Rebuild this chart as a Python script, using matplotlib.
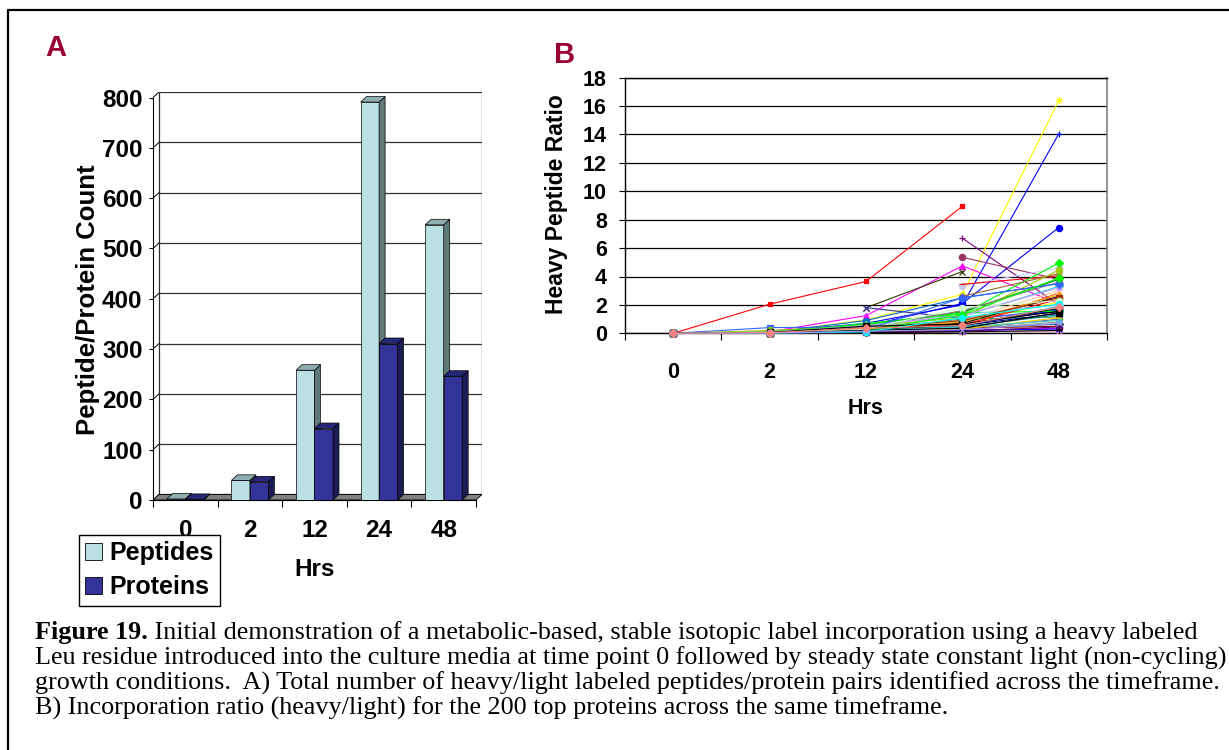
"""Figure 19: heavy Leu label incorporation (A: counts, B: heavy/light ratios)."""
import numpy as np
import matplotlib
matplotlib.use("Agg")
import matplotlib.pyplot as plt
from matplotlib.patches import Polygon, Patch
from matplotlib.lines import Line2D

nan = np.nan

# ---- data -------------------------------------------------------------
hours = ["0", "2", "12", "24", "48"]
peptides = [2, 39, 258, 791, 547]
proteins = [1, 36, 142, 311, 246]

# one row per protein: heavy/light ratio at 0, 2, 12, 24, 48 h
protein_ratios = [
    [0, 2.05, 3.65, 8.95, nan],
    [0, 0.05, 0.95, 2.75, 16.4],
    [0, 0.1, 0.7, 2.0, 14.05],
    [0, 0.1, 0.5, 2.1, 7.45],
    [nan, nan, nan, 6.7, 2.0],
    [nan, nan, nan, 5.35, 3.8],
    [0, 0.1, 1.25, 4.75, 2.1],
    [nan, nan, 1.8, 4.35, nan],
    [nan, nan, 1.8, 1.05, 1.5],
    [nan, nan, nan, 3.35, 4.6],
    [nan, nan, nan, 3.45, 4.05],
    [0, 0.0, 0.7, 1.35, 4.95],
    [0, 0.05, 0.9, 2.5, 3.5],
    [0, 0.05, 0.6, 1.5, 3.8],
    [0, 0.4, 0.45, 0.9, 1.7],
    [0, 0.05, 0.35, 0.75, 2.2],
    [0, 0.05, 0.4, 0.55, 1.65],
    [nan, nan, nan, 2.6, 4.2],
    [0, 0.05, 0.6, 1.2, 3.3],
    [0, 0.05, 0.3, 0.7, 2.6],
    [0, 0.05, 0.25, 1.0, 1.15],
    [0, 0.02, 0.1, 0.35, 0.65],
    [0, 0.2, 0.5, 1.1, 4.45],
    [0, 0.1, 0.6, 1.45, 1.55],
    [0, 0.02, 0.2, 0.4, 2.85],
    [0, 0.02, 0.15, 0.3, 1.0],
    [0, 0.02, 0.1, 0.2, 0.35],
    [0, 0.02, 0.05, 0.1, 0.15],
    [0, 0.05, 0.45, 0.6, 2.4],
    [0, 0.03, 0.2, 0.5, 1.9],
    [0, 0.05, 0.3, 0.55, 1.4],
    [0, 0.02, 0.1, 0.25, 0.8],
    [0, 0.1, 0.4, 0.9, 3.0],
    [0, 0.03, 0.35, 1.6, 3.6],
    [0, 0.02, 0.25, 0.45, 1.3],
    [0, 0.04, 0.5, 1.3, 2.0],
    [0, 0.03, 0.15, 0.35, 0.5],
    [0, 0.02, 0.3, 0.8, 2.7],
    [0, 0.02, 0.12, 0.2, 0.3],
    [0, 0.05, 0.55, 1.25, 3.2],
    [0, 0.03, 0.2, 0.6, 1.75],
    [0, 0.02, 0.15, 0.3, 1.1],
    [0, 0.05, 0.25, 2.5, 3.5],
    [0, 0.02, 0.35, 0.9, 2.5],
    [0, 0.03, 0.2, 0.45, 0.9],
    [0, 0.02, 0.1, 0.15, 0.45],
    [0, 0.04, 0.3, 1.8, 2.3],
    [0, 0.02, 0.05, 0.1, 0.2],
    [0, 0.03, 0.2, 1.3, 3.9],
    [0, 0.06, 0.5, 0.65, 1.55],
    [0, 0.03, 0.2, 0.35, 1.45],
    [0, 0.02, 0.1, 1.1, 2.05],
    [0, 0.02, 0.15, 0.25, 0.7],
    [0, 0.05, 0.35, 0.55, 1.85],
]

# ---- styles -----------------------------------------------------------
line_colors = [
    "#FF0000", "#FFFF00", "#0000FF", "#0000FF", "#800080", "#993366",
    "#FF00FF", "#333300", "#333399", "#CCCCFF", "#FF0000", "#00FF00",
    "#0066CC", "#008000", "#3366FF", "#FFFF00", "#0000FF", "#996633",
    "#33CCCC", "#000000", "#339966", "#003366", "#99CC00", "#00FF00",
    "#FF6600", "#666699", "#FF00FF", "#FF99CC", "#FF0000", "#00CCFF",
    "#000080", "#969696", "#FFCC99", "#808080", "#008080", "#99CCFF",
    "#800000", "#FF9900", "#0000FF", "#CC99FF", "#003300", "#FFCC00",
    "#3366FF", "#993300", "#33CCCC", "#660066", "#CCFFCC", "#000000",
    "#00FF00", "#000000", "#000000", "#00FFFF", "#9999FF", "#FF8080",
]
line_markers = [
    "s", (6, 2, 0), "+", "o", "+", "o", "^", "x", "x", "o", "_", "D",
    "o", (6, 2, 0), "s", "^", "s", (6, 2, 0), "D", "+", "s", "D", "o", "D",
    "^", "x", "o", "x", "s", "D", "s", "^", "x", "o", "+", "D",
    "s", "^", "x", (6, 2, 0), "o", "+", "D", "s", "^", "x", "o", "+",
    "D", "s", "^", "o", "x", "D",
]
line_sizes = [2.5] + [4.5] * (len(protein_ratios) - 1)

LABEL_RED = "#990033"
PEP_FRONT, PEP_SIDE, PEP_TOP = "#BBE0E3", "#5F7878", "#8EAFB2"
PRO_FRONT, PRO_SIDE, PRO_TOP = "#333399", "#1C1C55", "#27277A"

plt.rcParams["font.family"] = ["Liberation Sans", "DejaVu Sans"]
plt.rcParams["font.weight"] = "bold"

W, H = 1229, 750
fig = plt.figure(figsize=(W / 100, H / 100), dpi=100)


def fx(x):
    return x / W


def fy(y):
    return 1 - y / H


# frame around the figure (clipped at right and bottom)
fig.add_artist(Line2D([fx(8), fx(8), 1.0], [0.0, fy(10), fy(10)],
                      transform=fig.transFigure, color="black", lw=1.6))

# ---- panel A: 3-D style clustered columns -----------------------------
DX, DY = 0.093, 11          # depth offset of the 3-D box
BW = 0.286                  # bar width
YMAX = 800
x = np.arange(len(hours))

axA = fig.add_axes([fx(153), fy(500), (482 - 153) / W, (500 - 92) / H])
axA.set_xlim(-0.5, len(hours) - 0.5 + DX)
axA.set_ylim(0, YMAX + DY)
axA.patch.set_visible(False)
for s in ("top", "right"):
    axA.spines[s].set_visible(False)
axA.spines["left"].set_bounds(0, YMAX)
axA.spines["bottom"].set_bounds(-0.5, len(hours) - 0.5)
for s in ("left", "bottom"):
    axA.spines[s].set_linewidth(0.8)

yt = np.arange(0, YMAX + 1, 100)
x0, x1 = -0.5, len(hours) - 0.5
# back wall gridlines, left wall and right edge
axA.hlines(yt + DY, x0 + DX, x1 + DX, color="#303030", lw=0.9, zorder=1)
axA.vlines([x0 + DX, x1 + DX], DY, YMAX + DY, color="#303030", lw=0.9, zorder=1)
for v in yt:
    axA.plot([x0, x0 + DX], [v, v + DY], color="black", lw=0.7, zorder=1)
# floor
axA.add_patch(Polygon([(x0, 0), (x1, 0), (x1 + DX, DY), (x0 + DX, DY)],
                      closed=True, facecolor="#808080", edgecolor="black",
                      lw=0.6, zorder=2))


def add_depth(ax, bars, side, top):
    for r in bars:
        bx, bw, bh = r.get_x(), r.get_width(), r.get_height()
        ax.add_patch(Polygon([(bx + bw, 0), (bx + bw + DX, DY),
                              (bx + bw + DX, bh + DY), (bx + bw, bh)],
                             closed=True, facecolor=side, edgecolor="black",
                             lw=0.5, zorder=3))
        ax.add_patch(Polygon([(bx, bh), (bx + DX, bh + DY),
                              (bx + bw + DX, bh + DY), (bx + bw, bh)],
                             closed=True, facecolor=top, edgecolor="black",
                             lw=0.5, zorder=3))


bp = axA.bar(x - BW / 2, peptides, BW, color=PEP_FRONT, edgecolor="black",
             lw=0.5, zorder=3)
add_depth(axA, bp, PEP_SIDE, PEP_TOP)
bq = axA.bar(x + BW / 2, proteins, BW, color=PRO_FRONT, edgecolor="black",
             lw=0.5, zorder=3)
add_depth(axA, bq, PRO_SIDE, PRO_TOP)

axA.set_yticks(yt)
axA.tick_params(axis="y", length=3, width=0.8, pad=4.5, labelsize=17.5)
axA.set_xticks(x)
axA.set_xticklabels(hours)
axA.set_xticks(np.arange(-0.5, len(hours)), minor=True)
axA.tick_params(axis="x", which="major", length=0, pad=14, labelsize=17.5)
axA.tick_params(axis="x", which="minor", length=5, width=0.8)

fig.text(fx(88), fy(300), "Peptide/Protein Count", rotation=90,
         ha="center", va="center", fontsize=18.5, fontweight="bold")
fig.text(fx(315), fy(570), "Hrs", ha="center", va="center",
         fontsize=17.5, fontweight="bold")
fig.text(fx(56), fy(48), "A", ha="center", va="center", fontsize=21,
         fontweight="bold", color=LABEL_RED)

fig.legend(handles=[Patch(facecolor=PEP_FRONT, edgecolor="black", lw=0.6),
                    Patch(facecolor=PRO_FRONT, edgecolor="black", lw=0.6)],
           labels=["Peptides", "Proteins"], loc="upper left",
           bbox_to_anchor=(fx(79), fy(535)), borderaxespad=0,
           prop={"size": 18, "weight": "bold"}, frameon=True, fancybox=False,
           edgecolor="black", framealpha=1, handlelength=0.65,
           handleheight=0.7, handletextpad=0.3, labelspacing=0.4,
           borderpad=0.25)

# ---- panel B: heavy peptide ratio lines -------------------------------
axB = fig.add_axes([fx(625), fy(333.3), (1107 - 625) / W, (333.3 - 77.7) / H])
axB.set_xlim(-0.5, len(hours) - 0.5)
axB.set_ylim(0, 18)
axB.set_yticks(np.arange(0, 19, 2))
axB.grid(axis="y", color="black", lw=0.9)
axB.set_axisbelow(True)
axB.spines["right"].set_color("#808080")
axB.spines["right"].set_linewidth(1.2)
for s in ("left", "bottom", "top"):
    axB.spines[s].set_linewidth(1.0)

for row, c, m, ms in zip(protein_ratios, line_colors, line_markers, line_sizes):
    axB.plot(x, row, color=c, marker=m, markersize=ms, markeredgewidth=0.9,
             lw=0.8, clip_on=False, zorder=3)

axB.set_xticks(x)
axB.set_xticklabels(hours)
axB.set_xticks(np.arange(-0.5, len(hours)), minor=True)
axB.tick_params(axis="x", which="major", length=0, pad=21, labelsize=15.5)
axB.tick_params(axis="x", which="minor", length=5, width=0.8)
axB.tick_params(axis="y", length=4, width=0.8, pad=9, labelsize=15.5)

fig.text(fx(557), fy(204), "Heavy Peptide Ratio", rotation=90,
         ha="center", va="center", fontsize=16.5, fontweight="bold")
fig.text(fx(866), fy(408), "Hrs", ha="center", va="center",
         fontsize=15.5, fontweight="bold")
fig.text(fx(565), fy(55), "B", ha="center", va="center", fontsize=21,
         fontweight="bold", color=LABEL_RED)

# ---- caption ----------------------------------------------------------
cap_font = dict(family=["Liberation Serif", "DejaVu Serif"], fontsize=18.8)
head = fig.text(fx(35), fy(633), "Figure 19.", va="center", ha="left",
                fontweight="bold", **cap_font)
bb = head.get_window_extent(fig.canvas.get_renderer())
fig.text(bb.x1 / W, fy(633), " Initial demonstration of a metabolic-based, "
         "stable isotopic label incorporation using a heavy labeled",
         va="center", ha="left", fontweight="normal", **cap_font)
caption_lines = [
    "Leu residue introduced into the culture media at time point 0 followed by "
    "steady state constant light (non-cycling)",
    "growth conditions.  A) Total number of heavy/light labeled peptides/protein "
    "pairs identified across the timeframe.",
    "B) Incorporation ratio (heavy/light) for the 200 top proteins across the "
    "same timeframe.",
]
for i, line in enumerate(caption_lines):
    fig.text(fx(35), fy(658 + 25 * i), line, va="center", ha="left",
             fontweight="normal", **cap_font)

fig.savefig("out.png", dpi=100)
